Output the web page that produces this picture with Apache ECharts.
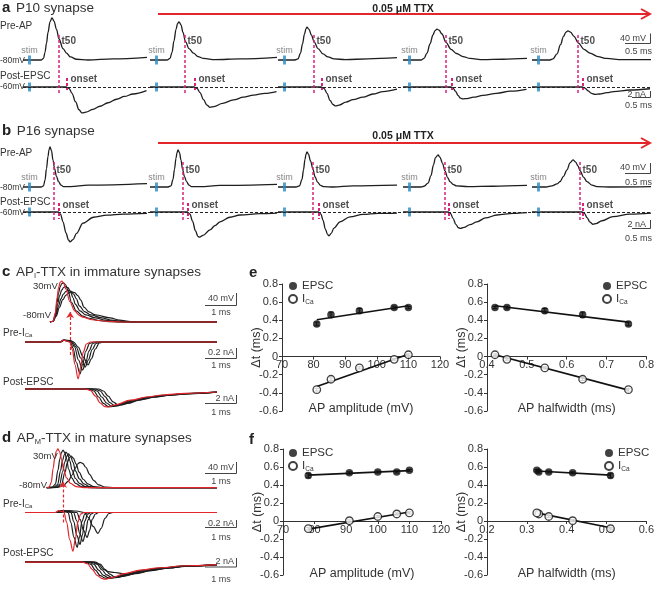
<!DOCTYPE html>
<html><head><meta charset="utf-8">
<script src="https://cdn.jsdelivr.net/npm/echarts@6/dist/echarts.min.js"></script>
<style>html,body{margin:0;padding:0;background:#fff;}#chart{width:657px;height:589px;}</style>
</head><body><div id="chart"></div>
<script>
// ================= DATA =================
// Panel a (P10): segments, t in ms from segment start; Pre-AP in mV, Post-EPSC in nA
const p10Pre1 = [[0,-80],[0.36,-80],[0.41,-76],[0.44,-60],[0.47,-36],[0.5,-8],[0.54,20],[0.58,30],[0.62,22],[0.67,0],[0.72,-25],[0.8,-50],[0.87,-62],[0.95,-72],[1.07,-78],[1.3,-80],[1.8,-77],[2.48,-73]];
const p10Pre2 = [[0,-80],[0.34,-80],[0.4,-76],[0.44,-60],[0.48,-30],[0.52,0],[0.55,15],[0.58,20],[0.62,12],[0.66,-8],[0.71,-32],[0.78,-50],[0.87,-62],[0.96,-71],[1.07,-76],[1.3,-79],[1.8,-77],[2.54,-73]];
const p10Pre3 = [[0,-80],[0.34,-80],[0.4,-77],[0.45,-62],[0.49,-38],[0.53,-12],[0.56,2],[0.58,6],[0.62,0],[0.67,-15],[0.72,-32],[0.8,-50],[0.9,-64],[1.0,-72],[1.12,-77],[1.35,-79],[1.8,-77],[2.38,-74]];
const p10Pre4 = [[0,-80],[0.36,-80],[0.42,-76],[0.48,-62],[0.54,-38],[0.6,-14],[0.64,-3],[0.68,1],[0.72,-2],[0.78,-12],[0.86,-34],[0.96,-52],[1.07,-63],[1.2,-71],[1.34,-76],[1.6,-79],[2.0,-78],[2.48,-76]];
const p10Pre5 = [[0,-80],[0.36,-80],[0.42,-77],[0.5,-64],[0.57,-40],[0.63,-18],[0.68,-7],[0.72,-4],[0.77,-7],[0.84,-18],[0.93,-36],[1.04,-52],[1.16,-62],[1.32,-71],[1.49,-76],[1.8,-79],[2.38,-79]];
const p10Post1 = [[0,0],[0.86,0],[0.92,-0.4],[0.98,-1.8],[1.05,-4.2],[1.12,-6.5],[1.18,-7.4],[1.26,-7.2],[1.4,-6.4],[1.54,-5.5],[1.7,-4.5],[1.87,-3.5],[2.03,-2.7],[2.2,-2.0],[2.47,-1.05]];
const p10Post2 = [[0,0],[0.88,0],[0.94,-0.4],[1.0,-1.6],[1.07,-3.6],[1.14,-5.2],[1.2,-5.8],[1.28,-5.6],[1.45,-4.7],[1.67,-3.7],[1.87,-2.9],[2.07,-2.3],[2.3,-1.8],[2.53,-1.3]];
const p10Post3 = [[0,0],[0.86,0],[0.92,-0.4],[0.98,-1.8],[1.04,-3.8],[1.1,-5.0],[1.15,-5.4],[1.22,-5.2],[1.36,-4.3],[1.5,-3.6],[1.7,-2.9],[1.9,-2.0],[2.1,-1.3],[2.38,-0.6]];
const p10Post4 = [[0,0],[0.96,0],[1.0,-0.3],[1.05,-1.2],[1.1,-2.4],[1.15,-3.2],[1.2,-3.4],[1.28,-3.3],[1.41,-2.9],[1.6,-2.4],[1.87,-1.8],[2.15,-1.2],[2.47,-0.67]];
const p10Post5 = [[0,0],[1.0,0],[1.06,-0.3],[1.12,-1.1],[1.19,-1.8],[1.26,-2.1],[1.35,-2.0],[1.5,-1.6],[1.63,-1.3],[1.96,-0.86],[2.36,-0.5]];
const p10T50 = [0.72, 0.70, 0.72, 0.86, 0.92];
const p10Onset = [0.88, 0.90, 0.88, 0.98, 1.02];

// Panel b (P16)
const p16Pre1 = [[0,-80],[0.36,-80],[0.41,-77],[0.44,-62],[0.47,-32],[0.5,0],[0.52,17],[0.54,25],[0.57,15],[0.6,-10],[0.63,-31],[0.67,-52],[0.71,-66],[0.76,-75],[0.81,-79],[0.95,-79],[1.3,-75],[2.48,-71]];
const p16Pre2 = [[0,-80],[0.36,-80],[0.42,-77],[0.46,-60],[0.49,-33],[0.52,-5],[0.54,10],[0.56,17],[0.59,10],[0.62,-10],[0.65,-33],[0.69,-53],[0.73,-66],[0.78,-75],[0.83,-79],[1.0,-79],[1.4,-76],[2.54,-73]];
const p16Pre3 = [[0,-80],[0.36,-80],[0.43,-77],[0.48,-60],[0.51,-35],[0.54,-8],[0.56,6],[0.58,12],[0.61,6],[0.65,-12],[0.7,-34],[0.74,-53],[0.79,-67],[0.85,-76],[0.92,-79],[1.1,-80],[1.5,-77],[2.38,-75]];
const p16Pre4 = [[0,-80],[0.36,-80],[0.42,-78],[0.5,-70],[0.56,-50],[0.61,-22],[0.65,-3],[0.7,4],[0.74,-2],[0.79,-18],[0.84,-38],[0.89,-55],[0.94,-66],[1.0,-73],[1.07,-77],[1.3,-79],[1.8,-78],[2.48,-76]];
const p16Pre5 = [[0,-80],[0.28,-80],[0.4,-77],[0.5,-72],[0.56,-66],[0.63,-52],[0.7,-35],[0.76,-17],[0.82,-9],[0.87,-14],[0.92,-25],[0.96,-37],[1.03,-54],[1.1,-66],[1.2,-75],[1.3,-79],[1.6,-80],[2.38,-79]];
const p16Post1 = [[0,0],[0.7,0],[0.75,-0.6],[0.8,-2.8],[0.86,-6.0],[0.91,-8.0],[0.94,-8.5],[1.0,-7.9],[1.07,-6.1],[1.2,-3.2],[1.41,-1.5],[1.68,-0.9],[2.0,-0.6],[2.48,-0.4]];
const p16Post2 = [[0,0],[0.74,0],[0.8,-0.6],[0.85,-2.6],[0.91,-5.4],[0.96,-7.0],[0.99,-7.2],[1.06,-6.7],[1.2,-5.1],[1.3,-3.9],[1.4,-2.8],[1.6,-1.5],[1.8,-0.86],[2.2,-0.45],[2.54,-0.3]];
const p16Post3 = [[0,0],[0.8,0],[0.86,-0.6],[0.9,-2.4],[0.95,-5.0],[0.99,-6.4],[1.02,-6.8],[1.06,-6.2],[1.12,-4.6],[1.24,-2.8],[1.44,-1.4],[1.7,-0.7],[2.0,-0.4],[2.38,-0.3]];
const p16Post4 = [[0,0],[0.9,0],[0.95,-0.4],[1.0,-1.8],[1.06,-3.6],[1.11,-4.5],[1.15,-4.7],[1.22,-4.4],[1.34,-3.6],[1.48,-2.8],[1.65,-1.7],[1.88,-0.86],[2.2,-0.4],[2.48,-0.2]];
const p16Post5 = [[0,0],[1.0,0],[1.05,-0.4],[1.1,-1.6],[1.16,-2.9],[1.22,-3.5],[1.28,-3.3],[1.4,-2.5],[1.62,-1.3],[1.96,-0.6],[2.38,-0.3]];
const p16T50 = [0.62, 0.66, 0.70, 0.84, 0.96];
const p16Onset = [0.72, 0.76, 0.82, 0.92, 1.02];
const stimTime = 0.13;

// Panel c (immature, AP_I-TTX): t in ms; first trace = red (control)
const immAP0 = [[0.78,-80],[0.88,-78],[0.95,-55],[1.0,-15],[1.05,12],[1.1,27],[1.15,30],[1.2,25],[1.28,8],[1.4,-25],[1.55,-50],[1.7,-62],[1.8,-67],[2.1,-74],[2.5,-78],[3.0,-80],[6,-80]];
const immAP1 = [[0.78,-80],[0.88,-78],[0.95,-58],[1.0,-27],[1.05,-2],[1.1,15],[1.15,23],[1.2,25],[1.27,20],[1.35,3],[1.45,-27],[1.6,-50],[1.8,-64],[2.0,-70],[2.3,-76],[2.7,-79],[3.1,-80],[6,-80]];
const immAP2 = [[0.78,-80],[0.88,-78],[0.95,-62],[1.02,-32],[1.08,-10],[1.15,6],[1.21,13],[1.27,15],[1.34,12],[1.42,2],[1.5,-15],[1.57,-32],[1.72,-50],[1.9,-61],[2.2,-69],[2.5,-75],[2.9,-79],[3.3,-80],[6,-80]];
const immAP3 = [[0.78,-80],[0.88,-78],[0.96,-63],[1.05,-37],[1.12,-18],[1.2,-5],[1.28,2],[1.35,5],[1.43,3],[1.52,-5],[1.6,-17],[1.7,-37],[1.86,-52],[2.05,-61],[2.4,-69],[2.7,-75],[3.1,-79],[3.5,-80],[6,-80]];
const immAP4 = [[0.78,-80],[0.88,-78],[0.97,-65],[1.08,-40],[1.18,-20],[1.28,-8],[1.37,-2],[1.46,1],[1.55,-1],[1.65,-9],[1.75,-22],[1.84,-40],[2.0,-53],[2.2,-61],[2.66,-69],[2.95,-75],[3.3,-79],[3.7,-80],[6,-80]];
const immICa0 = [[0,0],[1.1,0],[1.2,0.04],[1.3,0.02],[1.4,0],[1.48,-0.15],[1.56,-0.45],[1.66,-0.74],[1.74,-0.5],[1.82,-0.2],[1.92,-0.04],[2.05,0],[6,0]];
const immICa1 = [[0,0],[1.1,0],[1.2,0.04],[1.3,0.02],[1.42,0],[1.5,-0.12],[1.6,-0.4],[1.72,-0.64],[1.8,-0.45],[1.9,-0.18],[2.02,-0.03],[2.15,0],[6,0]];
const immICa2 = [[0,0],[1.1,0],[1.22,0.04],[1.35,0.02],[1.45,0],[1.55,-0.1],[1.67,-0.36],[1.8,-0.56],[1.9,-0.4],[2.0,-0.18],[2.12,-0.03],[2.25,0],[6,0]];
const immICa3 = [[0,0],[1.1,0],[1.22,0.04],[1.38,0.02],[1.48,0],[1.6,-0.1],[1.74,-0.32],[1.88,-0.5],[1.98,-0.36],[2.1,-0.15],[2.22,-0.03],[2.35,0],[6,0]];
const immICa4 = [[0,0],[1.1,0],[1.25,0.04],[1.42,0.03],[1.52,0],[1.66,-0.1],[1.82,-0.3],[1.97,-0.46],[2.07,-0.34],[2.2,-0.14],[2.32,-0.02],[2.45,0],[6,0]];
const immEPSC0 = [[0,0],[1.9,0],[2.05,-0.4],[2.2,-1.8],[2.35,-3.5],[2.5,-4.4],[2.6,-4.5],[2.8,-4.0],[3.3,-2.8],[3.8,-2.0],[4.3,-1.5],[5.0,-1.1],[6,-0.75]];
const immEPSC1 = [[0,0],[2.0,0],[2.15,-0.5],[2.3,-2.0],[2.45,-3.6],[2.6,-4.4],[2.7,-4.4],[2.9,-3.9],[3.3,-2.9],[3.8,-2.1],[4.3,-1.6],[5.0,-1.15],[6,-0.8]];
const immEPSC2 = [[0,0],[2.1,0],[2.25,-0.5],[2.4,-2.0],[2.55,-3.5],[2.7,-4.3],[2.8,-4.3],[3.0,-3.8],[3.4,-2.9],[3.9,-2.1],[4.4,-1.6],[5.0,-1.2],[6,-0.8]];
const immEPSC3 = [[0,0],[2.2,0],[2.35,-0.5],[2.5,-1.9],[2.65,-3.4],[2.8,-4.2],[2.9,-4.2],[3.1,-3.7],[3.5,-2.8],[4.0,-2.0],[4.5,-1.55],[5.0,-1.2],[6,-0.8]];
const immEPSC4 = [[0,0],[2.3,0],[2.45,-0.5],[2.6,-1.8],[2.75,-3.2],[2.9,-3.9],[3.0,-4.0],[3.2,-3.6],[3.6,-2.7],[4.1,-2.0],[4.6,-1.5],[5.1,-1.15],[6,-0.8]];
const immArrowT = 1.41;

// Panel d (mature, AP_M-TTX)
const matAP0 = [[0.68,-80],[0.75,-79],[0.82,-65],[0.88,-25],[0.93,5],[0.98,24],[1.03,30],[1.08,22],[1.14,2],[1.2,-25],[1.3,-52],[1.42,-68],[1.6,-77],[1.9,-80],[6,-80]];
const matAP1 = [[0.68,-80],[0.85,-79],[0.95,-70],[1.03,-30],[1.09,2],[1.14,20],[1.19,27],[1.24,20],[1.3,2],[1.36,-27],[1.46,-52],[1.58,-68],[1.76,-77],[2.05,-80],[6,-80]];
const matAP2 = [[0.68,-80],[0.9,-79],[1.02,-71],[1.11,-32],[1.17,-4],[1.23,14],[1.28,21],[1.34,14],[1.4,-4],[1.47,-30],[1.58,-54],[1.7,-68],[1.88,-77],[2.15,-80],[6,-80]];
const matAP3 = [[0.68,-80],[0.95,-79],[1.08,-71],[1.18,-34],[1.24,-8],[1.3,8],[1.36,16],[1.42,10],[1.5,-8],[1.58,-33],[1.7,-55],[1.84,-69],[2.02,-77],[2.3,-80],[6,-80]];
const matAP4 = [[0.68,-80],[1.0,-79],[1.14,-71],[1.25,-36],[1.32,-10],[1.38,4],[1.44,10],[1.51,4],[1.6,-13],[1.69,-36],[1.82,-56],[1.96,-69],[2.15,-77],[2.45,-80],[6,-80]];
const matAP5 = [[0.68,-80],[1.0,-79],[1.2,-74],[1.35,-62],[1.47,-44],[1.57,-25],[1.65,-12],[1.72,-8],[1.8,-11],[1.9,-22],[2.02,-42],[2.15,-60],[2.3,-72],[2.5,-78],[2.8,-80],[6,-80]];
const matICa0 = [[0,0],[0.95,0],[1.05,0.04],[1.15,0.02],[1.22,0],[1.3,-0.2],[1.4,-0.55],[1.5,-0.78],[1.57,-0.55],[1.65,-0.2],[1.74,-0.03],[1.85,0],[6,0]];
const matICa1 = [[0,0],[1.0,0],[1.1,0.04],[1.22,0.02],[1.35,0],[1.43,-0.2],[1.53,-0.5],[1.63,-0.7],[1.7,-0.5],[1.78,-0.18],[1.87,-0.03],[1.97,0],[6,0]];
const matICa2 = [[0,0],[1.05,0],[1.15,0.04],[1.3,0.02],[1.44,0],[1.52,-0.18],[1.62,-0.46],[1.72,-0.64],[1.79,-0.46],[1.87,-0.17],[1.96,-0.03],[2.06,0],[6,0]];
const matICa3 = [[0,0],[1.1,0],[1.2,0.04],[1.36,0.02],[1.52,0],[1.61,-0.16],[1.71,-0.42],[1.81,-0.58],[1.89,-0.42],[1.97,-0.15],[2.06,-0.03],[2.16,0],[6,0]];
const matICa4 = [[0,0],[1.15,0],[1.25,0.04],[1.42,0.02],[1.62,0],[1.72,-0.14],[1.83,-0.36],[1.94,-0.5],[2.02,-0.36],[2.1,-0.14],[2.2,-0.03],[2.3,0],[6,0]];
const matICa5 = [[0,0],[1.2,0],[1.35,0.04],[1.6,0.03],[1.85,0],[1.98,-0.1],[2.13,-0.28],[2.28,-0.42],[2.38,-0.32],[2.5,-0.12],[2.62,-0.02],[2.75,0],[6,0]];
const matEPSC0 = [[0,0],[1.8,0],[1.95,-0.4],[2.1,-1.8],[2.25,-3.3],[2.4,-4.1],[2.5,-4.3],[2.7,-3.9],[3.1,-2.9],[3.6,-2.0],[4.2,-1.4],[5.0,-0.9],[6,-0.6]];
const matEPSC1 = [[0,0],[1.9,0],[2.05,-0.5],[2.2,-2.0],[2.35,-3.4],[2.5,-4.0],[2.6,-4.1],[2.8,-3.8],[3.2,-2.9],[3.7,-2.0],[4.3,-1.4],[5.0,-0.95],[6,-0.6]];
const matEPSC2 = [[0,0],[2.0,0],[2.15,-0.5],[2.3,-2.0],[2.45,-3.3],[2.6,-3.9],[2.7,-4.0],[2.9,-3.7],[3.3,-2.8],[3.8,-2.0],[4.4,-1.4],[5.0,-1.0],[6,-0.6]];
const matEPSC3 = [[0,0],[2.1,0],[2.25,-0.5],[2.4,-1.9],[2.55,-3.2],[2.7,-3.8],[2.8,-3.9],[3.0,-3.6],[3.4,-2.8],[3.9,-2.0],[4.5,-1.4],[5.0,-1.0],[6,-0.6]];
const matEPSC4 = [[0,0],[2.2,0],[2.35,-0.5],[2.5,-1.8],[2.65,-3.0],[2.8,-3.7],[2.9,-3.8],[3.1,-3.5],[3.5,-2.7],[4.0,-2.0],[4.5,-1.45],[5.0,-1.0],[6,-0.6]];
const matEPSC5 = [[0,0],[2.15,0],[2.3,-0.5],[2.45,-1.8],[2.6,-2.4],[2.8,-2.6],[3.0,-2.8],[3.2,-3.2],[3.45,-2.9],[3.9,-2.2],[4.5,-1.5],[5.0,-1.05],[6,-0.6]];
const matArrowT = 1.19;

// Panels e, f: delta t (ms) vs AP amplitude (mV) / halfwidth (ms), with SEM
const ampE = [81, 85.5, 94.5, 105.5, 110];
const hwE = [0.755, 0.64, 0.545, 0.45, 0.42];
const dtEpscE = [0.36, 0.46, 0.505, 0.54, 0.54];
const semEpscE = [0.02, 0.03, 0.025, 0.015, 0.012];
const dtIcaE = [-0.365, -0.25, -0.125, -0.03, 0.02];
const semIcaE = [0.015, 0.015, 0.012, 0.01, 0.01];
const fitEpscAmpE = [[81, 0.405], [110, 0.56]];
const fitIcaAmpE = [[81, -0.33], [110, 0.025]];
const fitEpscHwE = [[0.42, 0.56], [0.755, 0.38]];
const fitIcaHwE = [[0.42, 0.02], [0.755, -0.37]];
const ampF = [78, 91, 100, 106, 110];
const hwF = [0.51, 0.415, 0.355, 0.33, 0.325];
const dtEpscF = [0.505, 0.535, 0.545, 0.545, 0.563];
const semEpscF = [0.025, 0.012, 0.01, 0.012, 0.01];
const dtIcaF = [-0.085, 0.003, 0.05, 0.078, 0.09];
const semIcaF = [0.015, 0.01, 0.01, 0.012, 0.012];
const fitEpscAmpF = [[78, 0.51], [110, 0.56]];
const fitIcaAmpF = [[78, -0.09], [110, 0.1]];
const fitEpscHwF = [[0.325, 0.555], [0.51, 0.51]];
const fitIcaHwF = [[0.325, 0.09], [0.51, -0.075]];

// ================= LAYOUT / STYLE =================
const FONT = '"Liberation Sans", Arial, Helvetica, sans-serif';
const BLACK = '#1e1e1e', RED = '#e3262c', MAG = '#d8227c', BLUE = '#2b8cc6', TXT = '#333';
const PXMS = 50, PRE_PX = 0.382, POST_PX = 3.5, ICA_PX = 50, EPSC_PX = 4;
const segLefts = [23, 150, 278, 403, 532];
const segWidths = [127, 128, 125, 129, 119];

const grids = [], xAxes = [], yAxes = [], series = [], graphics = [], legends = [];
function addGrid(l, t, w, h) { grids.push({left: l, top: t, width: w, height: h}); return grids.length - 1; }
function hx(gi, min, max) { xAxes.push({gridIndex: gi, type: 'value', min, max, show: false, splitLine: {show: false}}); return xAxes.length - 1; }
function hy(gi, min, max) { yAxes.push({gridIndex: gi, type: 'value', min, max, show: false, splitLine: {show: false}}); return yAxes.length - 1; }
function rangeFor(topPx, botPx, basePx, baseVal, ppu) { return {min: baseVal - (botPx - basePx) / ppu, max: baseVal + (basePx - topPx) / ppu}; }
function trace(xi, yi, data, color, w, extra) {
  series.push(Object.assign({type: 'line', xAxisIndex: xi, yAxisIndex: yi, data, showSymbol: false, symbol: 'none',
    smooth: 0.35, smoothMonotone: 'x', clip: false, silent: true, animation: false,
    lineStyle: {color, width: w || 1.3}, z: 2}, extra || {}));
}
function labelPoint(xi, yi, pt, text, pos, style) {
  series.push({type: 'scatter', xAxisIndex: xi, yAxisIndex: yi, data: [pt], symbolSize: 1, clip: false, silent: true,
    itemStyle: {color: 'rgba(0,0,0,0)'}, z: 6,
    label: Object.assign({show: true, formatter: text, position: pos, align: 'left', verticalAlign: 'middle', fontFamily: FONT}, style)});
}
function txt(x, y, text, o) {
  graphics.push({type: 'text', x, y, silent: true, z: 10,
    style: Object.assign({text, fontFamily: FONT, fontSize: 10, fill: TXT, align: 'left', verticalAlign: 'middle'}, o || {})});
}
function pl(points, color, w, dash) {
  graphics.push({type: 'polyline', silent: true, z: 10, shape: {points},
    style: {stroke: color || '#333', lineWidth: w || 1, fill: null, lineDash: dash || null}});
}

// ---- segmented panels a, b ----
function segPanel(P) {
  for (let k = 0; k < 5; k++) {
    const gi = addGrid(segLefts[k], P.top, segWidths[k], P.bottom - P.top);
    const xi = hx(gi, 0, segWidths[k] / PXMS);
    const r0 = rangeFor(P.top, P.bottom, P.preBase, -80, PRE_PX);
    const r1 = rangeFor(P.top, P.bottom, P.postBase, 0, POST_PX);
    const y0 = hy(gi, r0.min, r0.max), y1 = hy(gi, r1.min, r1.max);
    trace(xi, y1, P.post[k], BLACK, 1.3, {markLine: {silent: true, symbol: 'none', animation: false, label: {show: false},
      lineStyle: {color: '#222', type: [3, 2], width: 1}, data: [{yAxis: 0}]}});
    trace(xi, y0, P.pre[k], BLACK, 1.3, {markLine: {silent: true, symbol: 'none', animation: false, label: {show: false},
      lineStyle: {color: MAG, type: [3, 2], width: 1.5}, data: [{xAxis: P.t50[k]}]}});
    series.push({type: 'scatter', xAxisIndex: xi, yAxisIndex: y0, data: [[stimTime, -80]], symbol: 'rect', symbolSize: [3, 9],
      itemStyle: {color: BLUE}, silent: true, z: 4,
      label: {show: true, formatter: 'stim', position: 'top', distance: 0, fontSize: 9, color: '#666', fontFamily: FONT}});
    series.push({type: 'scatter', xAxisIndex: xi, yAxisIndex: y1, data: [[stimTime, 0]], symbol: 'rect', symbolSize: [3, 9],
      itemStyle: {color: BLUE}, silent: true, z: 4});
    trace(xi, y1, [[P.onset[k], P.onTop / POST_PX], [P.onset[k], -P.onBot / POST_PX]], MAG, 2,
      {smooth: false, lineStyle: {color: MAG, width: 2, type: [3, 2]}, z: 4});
    labelPoint(xi, y0, [P.t50[k], -80], 't50', [3, P.t50Dy], {fontSize: 10, fontWeight: 'bold', color: '#222'});
    labelPoint(xi, y1, [P.onset[k], 0], 'onset', [4, P.onDy], {fontSize: 10, fontWeight: 'bold', color: '#222'});
  }
}
segPanel({top: 33, bottom: 93, preBase: 60, postBase: 87,
  pre: [p10Pre1, p10Pre2, p10Pre3, p10Pre4, p10Pre5], post: [p10Post1, p10Post2, p10Post3, p10Post4, p10Post5],
  t50: p10T50, onset: p10Onset, onTop: 9, onBot: 3, t50Dy: -18, onDy: -7});
segPanel({top: 162, bottom: 220, preBase: 187, postBase: 212,
  pre: [p16Pre1, p16Pre2, p16Pre3, p16Pre4, p16Pre5], post: [p16Post1, p16Post2, p16Post3, p16Post4, p16Post5],
  t50: p16T50, onset: p16Onset, onTop: 9, onBot: 7, t50Dy: -16, onDy: -6});

// ---- overlay panels c, d ----
function overlayPanel(P) {
  const gi = addGrid(25, P.top, 192, P.bottom - P.top);
  const xi = hx(gi, 0, 6);
  const ra = rangeFor(P.top, P.bottom, P.apBase, -80, P.apPx);
  const ri = rangeFor(P.top, P.bottom, P.icaBase, 0, ICA_PX);
  const re = rangeFor(P.top, P.bottom, P.epscBase, 0, EPSC_PX);
  const ya = hy(gi, ra.min, ra.max), yi = hy(gi, ri.min, ri.max), ye = hy(gi, re.min, re.max);
  for (let i = P.ap.length - 1; i >= 0; i--) {
    const c = i === 0 ? RED : BLACK, z = i === 0 ? 3 : 2;
    trace(xi, ya, P.ap[i], c, 1.2, {z});
    const extra = {z};
    if (i === 0) {
      extra.markLine = {silent: true, animation: false, symbol: ['none', 'arrow'], symbolSize: 6, label: {show: false},
        lineStyle: {color: RED, type: [3, 2], width: 1.2},
        data: [[{coord: [P.arrowT, -P.arrowLo / ICA_PX]}, {coord: [P.arrowT, P.arrowHi / ICA_PX]}]]};
    }
    trace(xi, yi, P.ica[i], c, 1.2, extra);
    trace(xi, ye, P.epsc[i], c, 1.2, {z});
  }
}
overlayPanel({top: 270, bottom: 420, apBase: 322, icaBase: 342, epscBase: 389, apPx: 0.3727,
  ap: [immAP0, immAP1, immAP2, immAP3, immAP4], ica: [immICa0, immICa1, immICa2, immICa3, immICa4],
  epsc: [immEPSC0, immEPSC1, immEPSC2, immEPSC3, immEPSC4], arrowT: immArrowT, arrowLo: 13, arrowHi: 30});
overlayPanel({top: 440, bottom: 590, apBase: 488, icaBase: 513, epscBase: 563, apPx: 0.3545,
  ap: [matAP0, matAP1, matAP2, matAP3, matAP4, matAP5], ica: [matICa0, matICa1, matICa2, matICa3, matICa4, matICa5],
  epsc: [matEPSC0, matEPSC1, matEPSC2, matEPSC3, matEPSC4, matEPSC5], arrowT: matArrowT, arrowLo: 10, arrowHi: 31});

// ---- scatter panels e, f ----
const yFmt = v => Math.abs(v) < 1e-9 ? '0' : v.toFixed(1);
function errBars(xi, yi, xs, ys, es) {
  series.push({type: 'custom', xAxisIndex: xi, yAxisIndex: yi, silent: true, animation: false, z: 2,
    data: xs.map((x, i) => [x, ys[i] - es[i], ys[i] + es[i]]),
    renderItem: (params, api) => {
      const lo = api.coord([api.value(0), api.value(1)]), hi = api.coord([api.value(0), api.value(2)]);
      const st = {stroke: '#111', lineWidth: 1};
      return {type: 'group', children: [
        {type: 'line', shape: {x1: lo[0], y1: lo[1], x2: hi[0], y2: hi[1]}, style: st},
        {type: 'line', shape: {x1: hi[0] - 2.5, y1: hi[1], x2: hi[0] + 2.5, y2: hi[1]}, style: st},
        {type: 'line', shape: {x1: lo[0] - 2.5, y1: lo[1], x2: lo[0] + 2.5, y2: lo[1]}, style: st}]};
    }});
}
function scatterPanel(P) {
  const gi = addGrid(P.left, P.top, P.width, P.height);
  const zeroOff = -(P.height * 0.6 / 1.4);
  xAxes.push({gridIndex: gi, type: 'value', min: P.xmin, max: P.xmax, interval: P.xint, position: 'bottom', offset: zeroOff,
    axisLine: {onZero: false, lineStyle: {color: '#333', width: 1}}, axisTick: {show: true, length: 3, lineStyle: {color: '#333'}},
    axisLabel: {fontSize: 11, color: TXT, fontFamily: FONT, margin: 3, formatter: P.xfmt}, splitLine: {show: false},
    name: P.xname, nameLocation: 'middle', nameGap: P.xgap, nameMoveOverlap: false,
    nameTextStyle: {fontSize: 12.5, color: TXT, fontFamily: FONT}});
  const xi = xAxes.length - 1;
  yAxes.push({gridIndex: gi, type: 'value', min: -0.6, max: 0.8, interval: 0.2,
    axisLine: {show: true, onZero: false, lineStyle: {color: '#333', width: 1}}, axisTick: {show: true, length: 3, lineStyle: {color: '#333'}},
    axisLabel: {fontSize: 11, color: TXT, fontFamily: FONT, margin: 4, formatter: yFmt}, splitLine: {show: false},
    name: 'Δt (ms)', nameLocation: 'middle', nameGap: 19, nameRotate: 90, nameMoveOverlap: false,
    nameTextStyle: {fontSize: 12.5, color: TXT, fontFamily: FONT}});
  const yi = yAxes.length - 1;
  const mk = (xs, ys) => xs.map((x, i) => [x, ys[i]]);
  series.push({type: 'line', xAxisIndex: xi, yAxisIndex: yi, data: P.fitE, showSymbol: false, symbol: 'none', silent: true, animation: false, lineStyle: {color: '#111', width: 1.6}, z: 2});
  series.push({type: 'line', xAxisIndex: xi, yAxisIndex: yi, data: P.fitI, showSymbol: false, symbol: 'none', silent: true, animation: false, lineStyle: {color: '#111', width: 1.6}, z: 2});
  errBars(xi, yi, P.xs, P.epsc, P.epscErr);
  errBars(xi, yi, P.xs, P.ica, P.icaErr);
  series.push({name: 'EPSC', type: 'scatter', xAxisIndex: xi, yAxisIndex: yi, data: mk(P.xs, P.epsc), symbol: 'circle', symbolSize: 7.5,
    itemStyle: {color: '#111'}, silent: true, animation: false, z: 3});
  series.push({name: 'ICa', type: 'scatter', xAxisIndex: xi, yAxisIndex: yi, data: mk(P.xs, P.ica), symbol: 'circle', symbolSize: 7.5,
    itemStyle: {color: '#fff', borderColor: '#111', borderWidth: 1.3}, silent: true, animation: false, z: 3});
  legends.push({left: P.legLeft, top: P.legTop, orient: 'vertical', itemGap: 1, itemWidth: 8, itemHeight: 8, selectedMode: false,
    data: [{name: 'EPSC', icon: 'circle'}, {name: 'ICa', icon: 'circle'}],
    formatter: n => n === 'ICa' ? '{m|I}{s|Ca}' : '{m|EPSC}',
    textStyle: {fontFamily: FONT, color: TXT, fontSize: 11,
      rich: {m: {fontSize: 11.5, fontFamily: FONT, color: TXT}, s: {fontSize: 6.5, fontFamily: FONT, color: TXT, padding: [6, 0, 0, 0]}}}});
}
scatterPanel({left: 282, top: 284, width: 158, height: 127, xmin: 70, xmax: 120, xint: 10, xfmt: v => String(v),
  xname: 'AP amplitude (mV)', xgap: 45, xs: ampE, epsc: dtEpscE, ica: dtIcaE, epscErr: semEpscE, icaErr: semIcaE,
  fitE: fitEpscAmpE, fitI: fitIcaAmpE, legLeft: 283, legTop: 275});
scatterPanel({left: 487, top: 284, width: 160, height: 127, xmin: 0.4, xmax: 0.8, xint: 0.1, xfmt: v => v.toFixed(1),
  xname: 'AP halfwidth (ms)', xgap: 45, xs: hwE, epsc: dtEpscE, ica: dtIcaE, epscErr: semEpscE, icaErr: semIcaE,
  fitE: fitEpscHwE, fitI: fitIcaHwE, legLeft: 597, legTop: 275});
scatterPanel({left: 283, top: 449, width: 158, height: 126, xmin: 70, xmax: 120, xint: 10, xfmt: v => String(v),
  xname: 'AP amplitude (mV)', xgap: 46, xs: ampF, epsc: dtEpscF, ica: dtIcaF, epscErr: semEpscF, icaErr: semIcaF,
  fitE: fitEpscAmpF, fitI: fitIcaAmpF, legLeft: 283, legTop: 442});
scatterPanel({left: 487, top: 449, width: 160, height: 126, xmin: 0.2, xmax: 0.6, xint: 0.1, xfmt: v => v.toFixed(1),
  xname: 'AP halfwidth (ms)', xgap: 46, xs: hwF, epsc: dtEpscF, ica: dtIcaF, epscErr: semEpscF, icaErr: semIcaF,
  fitE: fitEpscHwF, fitI: fitIcaHwF, legLeft: 599, legTop: 442});

// ---- text & annotations ----
const titleRich = {b: {fontSize: 15, fontWeight: 'bold', fontFamily: FONT, fill: '#222'}, t: {fontSize: 13.5, fontFamily: FONT, fill: '#333'},
  s: {fontSize: 7.5, fontFamily: FONT, fill: '#333', padding: [7, 0, 0, 0]}};
txt(2, 8, '{b|a}  {t|P10 synapse}', {rich: titleRich});
txt(2, 131, '{b|b}  {t|P16 synapse}', {rich: titleRich});
txt(2, 272, '{b|c}  {t|AP}{s|I}{t|-TTX in immature synapses}', {rich: titleRich});
txt(2, 438, '{b|d}  {t|AP}{s|M}{t|-TTX in mature synapses}', {rich: titleRich});
txt(249, 273, 'e', {fontSize: 15, fontWeight: 'bold', fill: '#222'});
txt(249, 440, 'f', {fontSize: 15, fontWeight: 'bold', fill: '#222'});

// TTX arrows
[[14, 9], [143, 136]].forEach(([yl, yt]) => {
  pl([[158, yl], [650, yl]], RED, 2);
  pl([[641, yl - 5], [650, yl], [641, yl + 5]], RED, 2);
  txt(403, yt, '0.05 μM TTX', {fontSize: 10.5, fontWeight: 'bold', align: 'center', fill: '#222'});
});

// row labels a, b
[[26, 61, 76, 87], [153, 188, 202, 213]].forEach(([yp, y80, ype, y60]) => {
  txt(0, yp, 'Pre-AP', {fontSize: 10});
  txt(0, y80, '-80mV', {fontSize: 8.5});
  txt(0, ype, 'Post-EPSC', {fontSize: 10});
  txt(0, y60, '-60mV', {fontSize: 8.5});
});
// scale bars a, b
[[39, 43.5, 33.5, 52, 95, 97.5, 91, 106], [168, 173.5, 163, 183, 225, 228.5, 220, 239]].forEach(([t1, h1, v1, m1, t2, h2, v2, m2]) => {
  txt(646, t1, '40 mV', {fontSize: 9, align: 'right', fill: '#444'});
  pl([[625, h1], [650.5, h1], [650.5, v1]], '#444', 1);
  txt(652, m1, '0.5 ms', {fontSize: 9, align: 'right', fill: '#444'});
  txt(646, t2, '2 nA', {fontSize: 9, align: 'right', fill: '#444'});
  pl([[632, h2], [650.5, h2], [650.5, v2]], '#444', 1);
  txt(652, m2, '0.5 ms', {fontSize: 9, align: 'right', fill: '#444'});
});
// labels c, d
const subRich = {m: {fontSize: 10, fontFamily: FONT, fill: TXT}, s: {fontSize: 6, fontFamily: FONT, fill: TXT, padding: [5, 0, 0, 0]}};
[[286, 23, 315, 333, 382], [456, 19, 485, 504, 553]].forEach(([y30, x80, y80, yI, yE]) => {
  txt(33, y30, '30mV', {fontSize: 9.5});
  txt(x80, y80, '-80mV', {fontSize: 9.5});
  txt(3, yI, '{m|Pre-I}{s|Ca}', {rich: subRich});
  txt(3, yE, 'Post-EPSC', {fontSize: 10});
});
// scale bars c, d
[[299, 305.5, 293, 313, 353, 358.5, 348, 366, 399, 403.5, 395, 413],
 [468, 473.5, 462, 482, 524, 527.5, 520, 538, 562, 567, 558, 580]].forEach(r => {
  const lab = ['40 mV', '0.2 nA', '2 nA'];
  for (let j = 0; j < 3; j++) {
    const [ty, hy_, vy, my] = r.slice(j * 4, j * 4 + 4);
    txt(234, ty, lab[j], {fontSize: 9, align: 'right', fill: '#444'});
    pl([[205, hy_], [236.5, hy_], [236.5, vy]], '#444', 1);
    txt(221, my, '1 ms', {fontSize: 9, align: 'center', fill: '#444'});
  }
});

const chart = echarts.init(document.getElementById('chart'), null, {renderer: 'canvas'});
chart.setOption({animation: false, backgroundColor: '#fff', grid: grids, xAxis: xAxes, yAxis: yAxes, series, legend: legends, graphic: graphics});
</script></body></html>
